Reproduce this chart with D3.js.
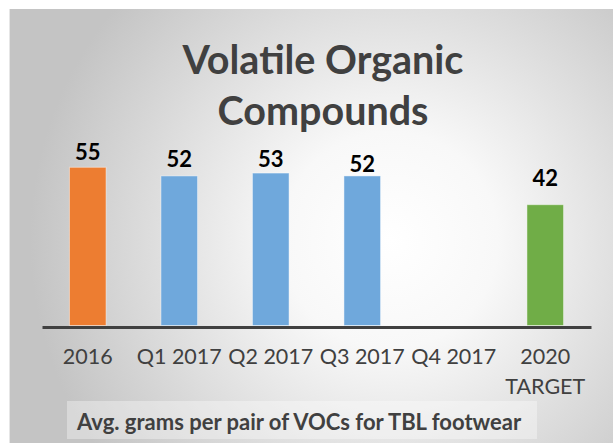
<!DOCTYPE html>
<html>
<head>
<meta charset="utf-8">
<script src="https://cdn.jsdelivr.net/npm/d3@7"></script>
<style>
  html, body { margin: 0; padding: 0; background: #ffffff; }
  svg { display: block; }
</style>
</head>
<body>
<script>
// chart data
var categories = ['2016', 'Q1 2017', 'Q2 2017', 'Q3 2017', 'Q4 2017', '2020 TARGET'];
var values = [55, 52, 53, 52, null, 42];
var barColors = ['#ED7D31', '#6FA8DC', '#6FA8DC', '#6FA8DC', '#6FA8DC', '#70AD47'];
var titleLines = ['Volatile Organic', 'Compounds'];
var footnote = 'Avg. grams per pair of VOCs for TBL footwear';

// labels were nudged by hand in the original, keep that
var labelGap = [7, 9, 6, 4, 0, 19];

var width = 613, height = 445;
var font = 'Lato, "Open Sans", sans-serif';

var svg = d3.select('body').append('svg')
    .attr('xmlns', 'http://www.w3.org/2000/svg')
    .attr('width', width)
    .attr('height', height);

// background panel with soft radial shading
var grad = svg.append('defs')
    .append('radialGradient')
    .attr('id', 'bg')
    .attr('gradientUnits', 'userSpaceOnUse')
    .attr('cx', 390).attr('cy', 240).attr('r', 360);
grad.append('stop').attr('offset', '0').attr('stop-color', '#ffffff');
grad.append('stop').attr('offset', '0.3').attr('stop-color', '#f8f8f8');
grad.append('stop').attr('offset', '1').attr('stop-color', '#c4c4c4');

svg.append('rect')
    .attr('x', 9).attr('y', 9)
    .attr('width', width - 9).attr('height', 434)
    .attr('fill', 'url(#bg)');
svg.append('line')
    .attr('x1', 9.5).attr('x2', 9.5).attr('y1', 9).attr('y2', 443)
    .attr('stroke', '#e6e6e6').attr('stroke-width', 1);

// scales
var x = d3.scaleBand()
    .domain(categories)
    .range([42, 591])
    .paddingInner(0.6)
    .paddingOuter(0.3);

var y = d3.scaleLinear()
    .domain([0, 55])
    .range([325.5, 167.3]);

// title
svg.append('g')
    .selectAll('text')
    .data(titleLines)
    .join('text')
    .attr('x', 323)
    .attr('y', (d, i) => 74 + i * 51)
    .attr('text-anchor', 'middle')
    .style('font-family', font)
    .style('font-weight', 'bold')
    .style('font-size', '39.5px')
    .style('fill', '#404040')
    .text(d => d);

var data = categories.map((c, i) => ({ cat: c, value: values[i], color: barColors[i], gap: labelGap[i] }))
    .filter(d => d.value != null);

// bars
svg.append('g')
    .selectAll('rect')
    .data(data)
    .join('rect')
    .attr('x', d => x(d.cat))
    .attr('y', d => y(d.value))
    .attr('width', x.bandwidth())
    .attr('height', d => y(0) - y(d.value))
    .attr('fill', d => d.color)
    .attr('stroke', 'rgba(255,255,255,0.45)')
    .attr('stroke-width', 1);

// value labels
svg.append('g')
    .selectAll('text')
    .data(data)
    .join('text')
    .attr('x', d => x(d.cat) + x.bandwidth() / 2)
    .attr('y', d => y(d.value) - d.gap)
    .attr('text-anchor', 'middle')
    .style('font-family', font)
    .style('font-weight', 'bold')
    .style('font-size', '22px')
    .style('fill', '#000000')
    .text(d => d.value);

// axis line
var axis = svg.append('g')
    .attr('transform', 'translate(0,327)')
    .call(d3.axisBottom(x).tickSize(0).tickPadding(0));
axis.select('.domain')
    .attr('stroke', '#404040')
    .attr('stroke-width', 3);
axis.selectAll('.tick text').remove();

// category labels, two lines for the target
axis.selectAll('.tick')
    .append('text')
    .attr('text-anchor', 'middle')
    .style('font-family', font)
    .style('font-size', '21.5px')
    .style('fill', '#404040')
    .selectAll('tspan')
    .data(d => d.indexOf('TARGET') >= 0 ? d.split(' ') : [d])
    .join('tspan')
    .attr('x', 0)
    .attr('y', (d, i) => 37 + i * 30)
    .text(d => d);

// footnote box
svg.append('rect')
    .attr('x', 67).attr('y', 401)
    .attr('width', 470).attr('height', 38)
    .attr('fill', 'rgba(255,255,255,0.35)');
svg.append('text')
    .attr('x', 77)
    .attr('y', 430)
    .style('font-family', font)
    .style('font-weight', 'bold')
    .style('font-size', '22px')
    .style('fill', '#404040')
    .text(footnote);
</script>
</body>
</html>
